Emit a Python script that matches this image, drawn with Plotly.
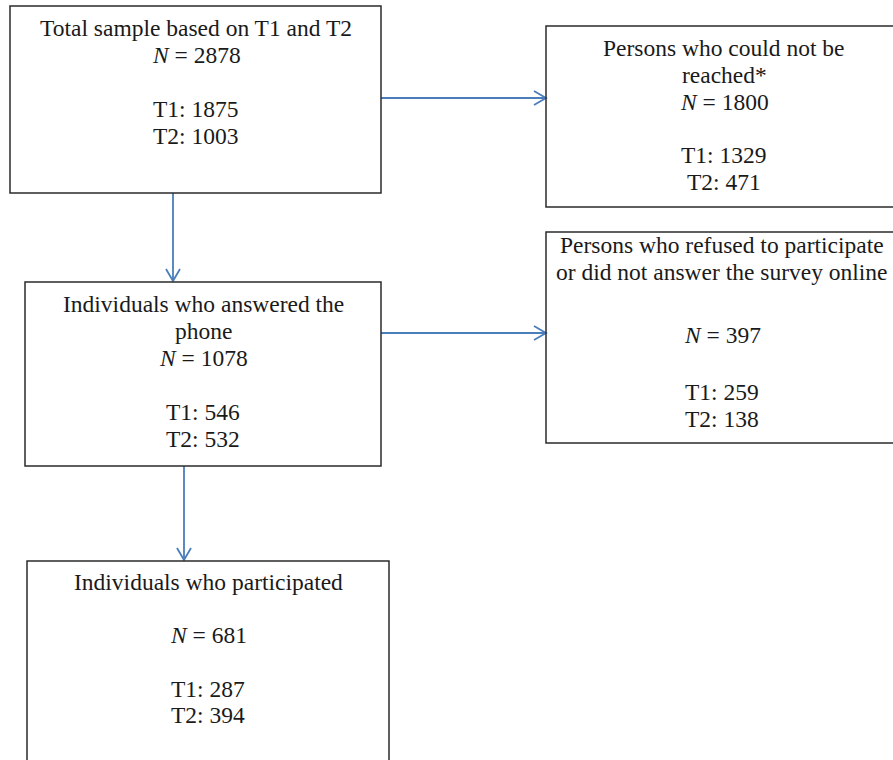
import plotly.graph_objects as go

# ---------------- data ----------------
titles = [
    ["Total sample based on T1 and T2"],
    ["Persons who could not be", "reached*"],
    ["Individuals who answered the", "phone"],
    ["Persons who refused to participate", "or did not answer the survey online"],
    ["Individuals who participated"],
]
n_total = [2878, 1800, 1078, 397, 681]
t1_counts = [1875, 1329, 546, 259, 287]
t2_counts = [1003, 471, 532, 138, 394]

# ---------------- layout (pixel geometry) ----------------
W, H = 893, 760
boxes = [  # x0, x1, y0, y1
    (10, 381, 6, 193),
    (546, 905, 26, 207),
    (25, 381, 282, 466),
    (546, 905, 232, 443),
    (27, 389, 561, 790),
]
text_x = [196, 724, 203, 722, 208]
# baselines: title lines..., N, T1, T2
baselines = [
    [36, 63, 117, 144],
    [56, 83, 110, 163, 190],
    [312, 339, 366, 420, 447],
    [253, 280, 343, 400, 427],
    [590, 643, 697, 723],
]
arrows = [  # (x0, y0, x1, y1) from source edge to target edge
    (381, 98, 546, 98),
    (173, 193, 173, 281),
    (381, 333, 546, 333),
    (184, 466, 184, 560),
]

FONT = "Liberation Serif, Times New Roman, serif"
FS = 23.5
BLUE = "#4a7ebb"
BOX_COLOR = "#2b2b2b"

fig = go.Figure()
shapes = []
for (x0, x1, y0, y1) in boxes:
    shapes.append(dict(type="rect", xref="x", yref="y", x0=x0, x1=x1, y0=y0, y1=y1,
                       line=dict(color=BOX_COLOR, width=1.5), fillcolor="rgba(0,0,0,0)"))

annotations = []
for i in range(len(boxes)):
    lines = list(titles[i]) + [f"<i>N</i> = {n_total[i]}",
                               f"T1: {t1_counts[i]}",
                               f"T2: {t2_counts[i]}"]
    for txt, base in zip(lines, baselines[i]):
        annotations.append(dict(x=text_x[i], y=base - 0.34 * FS, xref="x", yref="y",
                                text=txt, showarrow=False, xanchor="center", yanchor="middle",
                                font=dict(family=FONT, size=FS, color="#1a1a1a")))

head_len, head_half = 12, 7
for (x0, y0, x1, y1) in arrows:
    fig.add_trace(go.Scatter(x=[x0, x1], y=[y0, y1], mode="lines",
                             line=dict(color=BLUE, width=1.8), hoverinfo="skip", showlegend=False))
    if y0 == y1:  # horizontal -> right
        hx = [x1 - head_len, x1, x1 - head_len]
        hy = [y1 - head_half, y1, y1 + head_half]
    else:  # vertical -> down
        hx = [x1 - head_half, x1, x1 + head_half]
        hy = [y1 - head_len, y1, y1 - head_len]
    fig.add_trace(go.Scatter(x=hx, y=hy, mode="lines",
                             line=dict(color=BLUE, width=1.8), hoverinfo="skip", showlegend=False))

fig.update_layout(
    width=W, height=H, margin=dict(l=0, r=0, t=0, b=0),
    paper_bgcolor="white", plot_bgcolor="white",
    xaxis=dict(range=[0, W], visible=False, fixedrange=True),
    yaxis=dict(range=[H, 0], visible=False, fixedrange=True),
    shapes=shapes, annotations=annotations,
)
fig.write_html("out.html", config={"displayModeBar": False},
               post_script="document.body.style.margin='0';document.body.style.overflow='hidden';")
